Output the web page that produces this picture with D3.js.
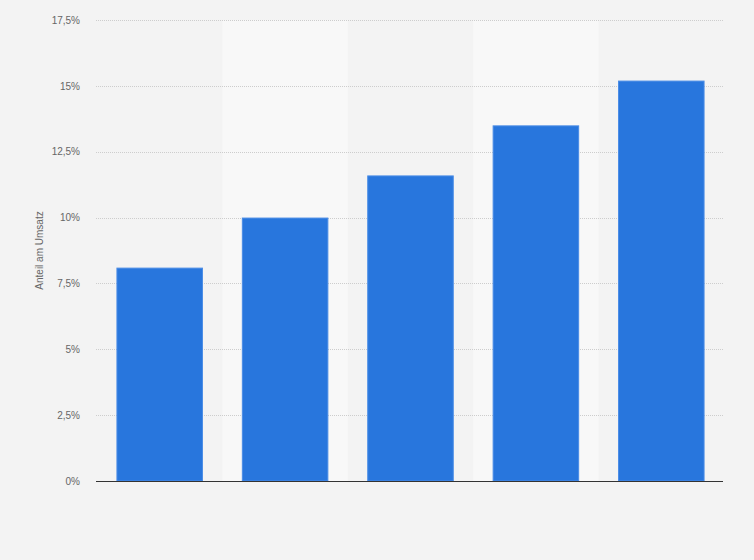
<!DOCTYPE html>
<html><head><meta charset="utf-8">
<script src="https://cdn.jsdelivr.net/npm/d3@7"></script>
<style>
html,body{margin:0;padding:0;background:#f3f3f3;}
svg{display:block;font-family:"Liberation Sans",Arial,sans-serif;}
</style></head>
<body>
<svg id="chart" width="754" height="560"></svg>
<script>
const categories = ["1", "2", "3", "4", "5"];
const values = [8.1, 10.0, 11.6, 13.5, 15.2];
const yTicks = [0, 2.5, 5, 7.5, 10, 12.5, 15, 17.5];
const yTitle = "Anteil am Umsatz";

const W = 754, H = 560;
const margin = {left: 96, right: 31, top: 20, bottom: 79};
const svg = d3.select("#chart");
svg.append("rect").attr("width", W).attr("height", H).attr("fill", "#f3f3f3");

const x = d3.scaleBand().domain(categories).range([margin.left + 1, W - margin.right + 1]).paddingInner(0.31).paddingOuter(0.155);
const xb = d3.scaleBand().domain(categories).range([margin.left, W - margin.right]).padding(0);
const y = d3.scaleLinear().domain([0, 17.5]).range([H - margin.bottom, margin.top]);

// alternating bands
svg.append("g").selectAll("rect").data(categories.filter((d, i) => i % 2 === 1)).join("rect")
  .attr("x", d => xb(d) + 1).attr("width", xb.bandwidth())
  .attr("y", y(17.5)).attr("height", y(0) - y(17.5))
  .attr("fill", "#f8f8f8");

const fmt = v => (v.toString().replace(".", ",")) + "%";

const yAxis = d3.axisLeft(y).tickValues(yTicks).tickFormat(fmt).tickSize(0).tickPadding(16);
const ga = svg.append("g").attr("transform", `translate(${margin.left},0)`).call(yAxis);
ga.select(".domain").remove();
ga.selectAll("text").attr("fill", "#666").attr("font-size", 10);

svg.append("g").selectAll("line").data(yTicks.filter(t => t > 0)).join("line")
  .attr("x1", margin.left).attr("x2", W - margin.right)
  .attr("y1", d => Math.round(y(d)) + 0.5).attr("y2", d => Math.round(y(d)) + 0.5)
  .attr("stroke", "#cdcdcd").attr("stroke-width", 1).attr("stroke-dasharray", "1,1");

// bars
svg.append("g").selectAll("rect").data(values).join("rect")
  .attr("x", (d, i) => x(categories[i]) + 0.5)
  .attr("width", x.bandwidth() - 1)
  .attr("y", d => y(d) + 0.5)
  .attr("height", d => y(0) - y(d) - 0.5)
  .attr("fill", "#2876dd").attr("stroke", "#4a8ce6").attr("stroke-width", 1);

// baseline
svg.append("line").attr("x1", margin.left).attr("x2", W - margin.right)
  .attr("y1", y(0) + 0.5).attr("y2", y(0) + 0.5)
  .attr("stroke", "#333").attr("stroke-width", 1.2);

// y title
svg.append("text").attr("transform", `translate(43,${(y(0) + y(17.5)) / 2}) rotate(-90)`)
  .attr("text-anchor", "middle").attr("font-size", 10).attr("fill", "#666").text(yTitle);
</script>
</body></html>
